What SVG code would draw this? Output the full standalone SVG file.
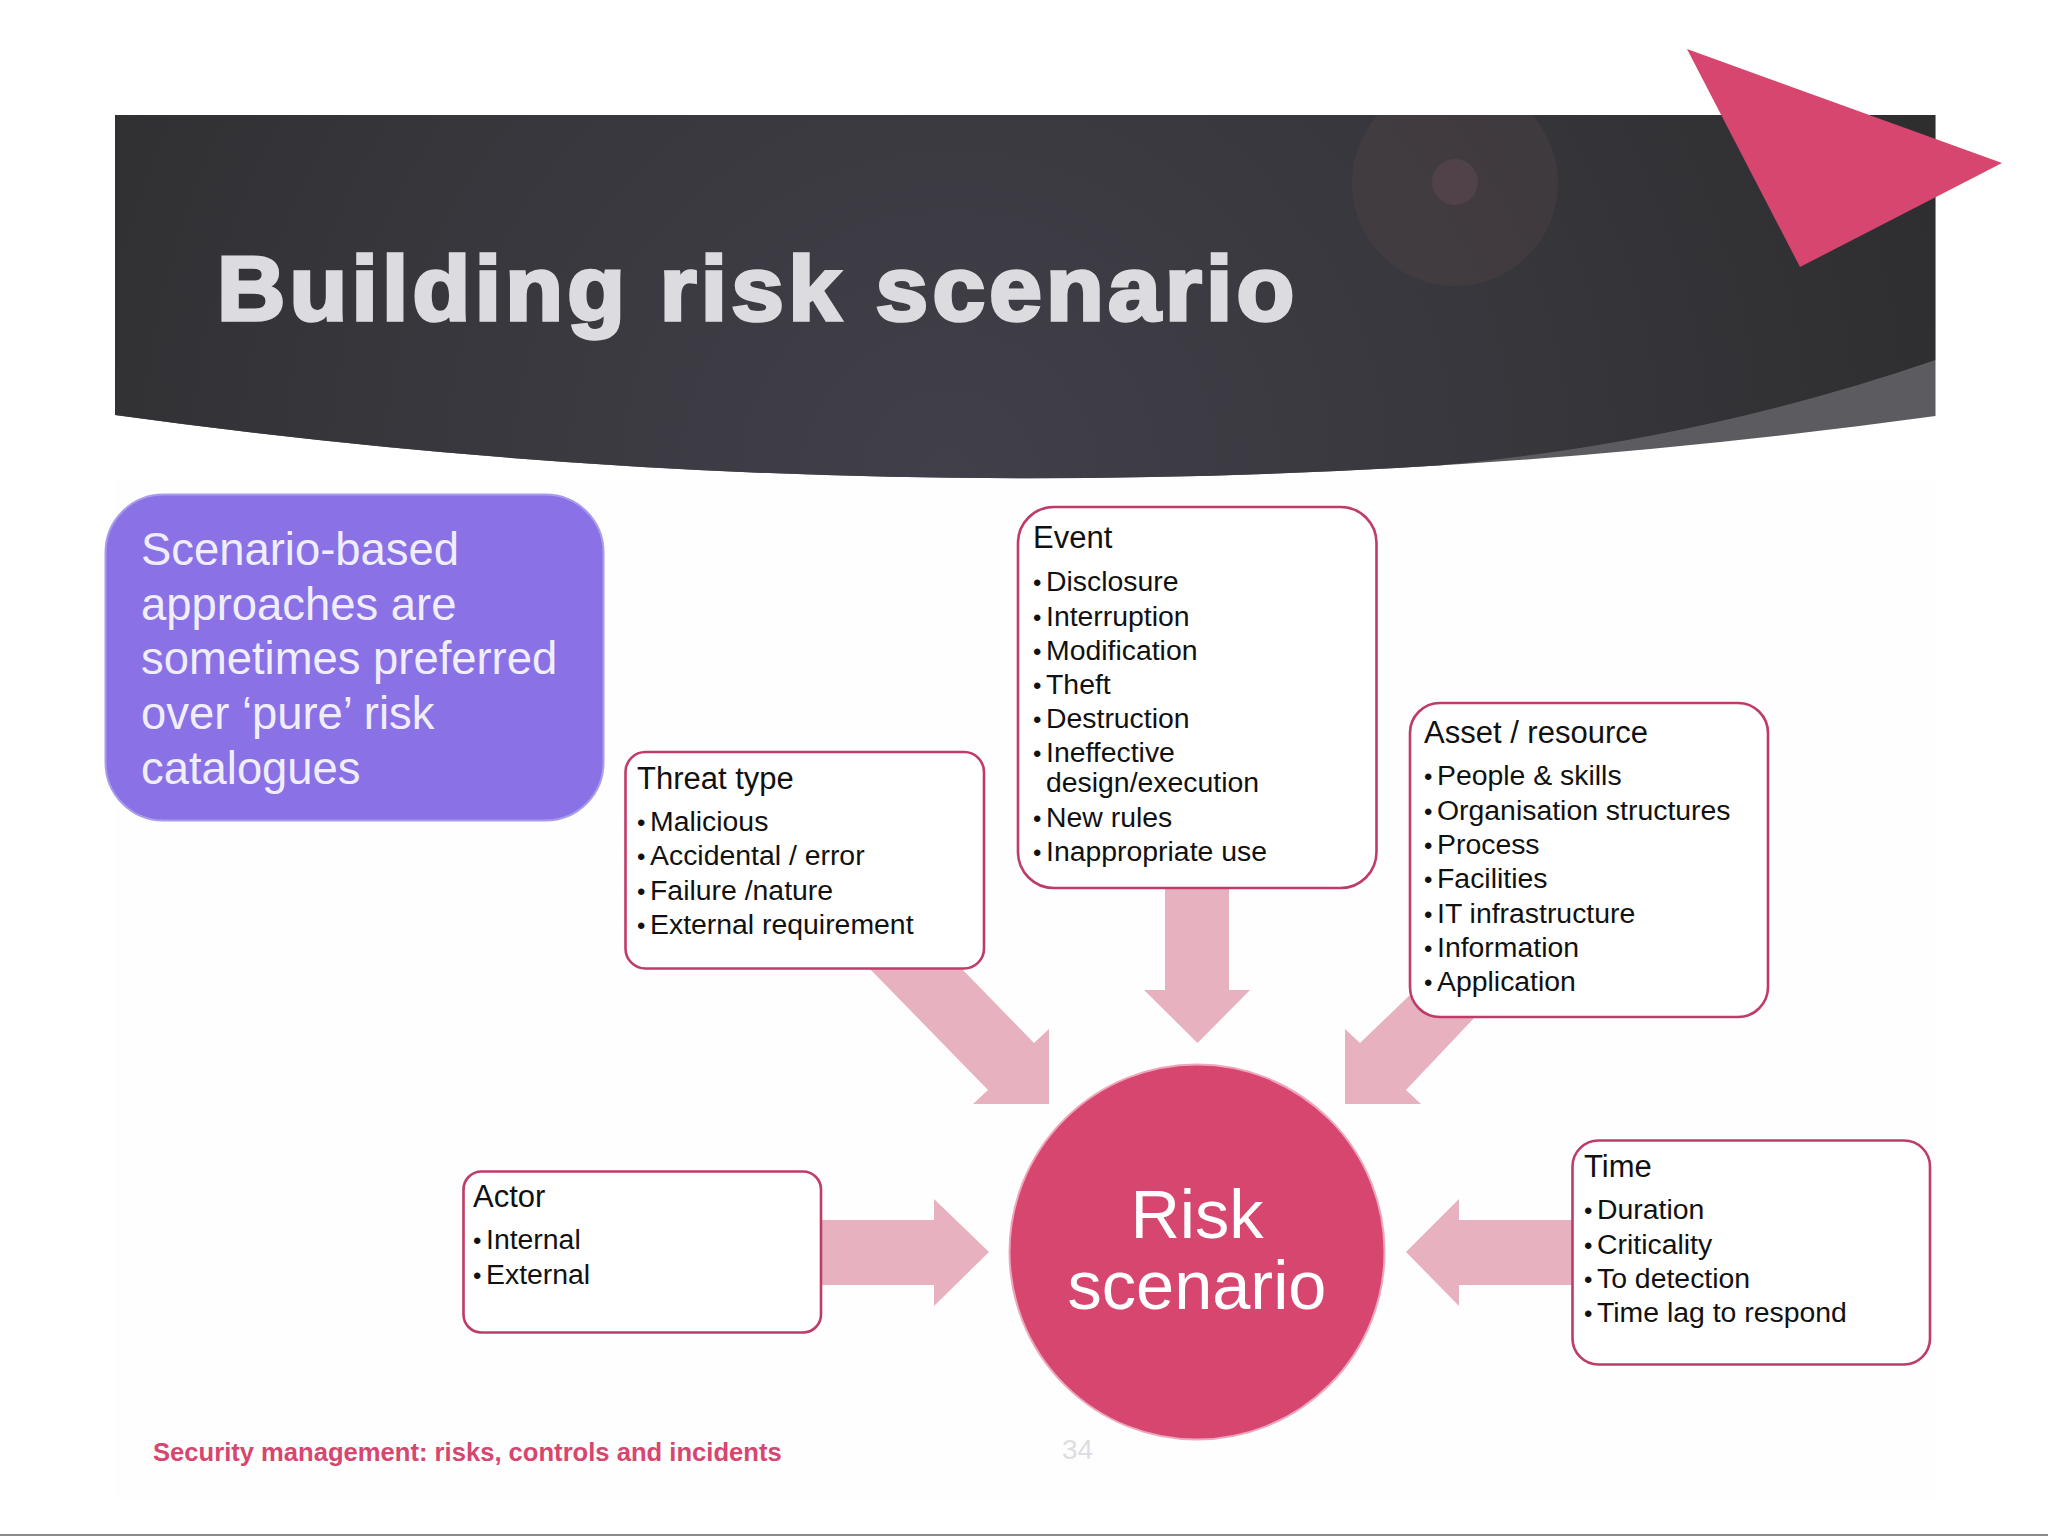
<svg xmlns="http://www.w3.org/2000/svg" width="2048" height="1536" viewBox="0 0 2048 1536">
<style>
text{font-family:"Liberation Sans",Arial,sans-serif}
.box{fill:#fff;stroke:#bf3c69;stroke-width:2.6}
.arrow{fill:#e8b1c0}
.h{font-size:31px;fill:#111}
.b{font-size:28.4px;fill:#111}
.d{font-size:24px}
.p{font-size:45.4px;fill:#f1eefc}
</style>
<defs>
<radialGradient id="bannerGrad" gradientUnits="userSpaceOnUse" cx="950" cy="480" r="1080">
<stop offset="0" stop-color="#413f49"/>
<stop offset="0.5" stop-color="#38373d"/>
<stop offset="1" stop-color="#2d2d2e"/>
</radialGradient>
<clipPath id="bannerClip"><rect x="115" y="115" width="1821" height="365"/></clipPath>
<clipPath id="darkClip"><path d="M0 0H1935.5V360Q1700 441 1443 465V600H0Z"/></clipPath>
</defs>
<rect width="2048" height="1536" fill="#fff"/>
<rect x="115" y="480" width="1821" height="1020" fill="#fefefe"/>
<rect y="1534" width="2048" height="2" fill="#8a8a8a"/>
<g id="banner">
<path d="M115 115H1935.5V416Q1025 541 115 415Z" fill="#5b5b60"/>
<path d="M115 115H1935.5V416Q1025 541 115 415Z" fill="url(#bannerGrad)" clip-path="url(#darkClip)"/>
<g clip-path="url(#bannerClip)">
<circle cx="1455" cy="183" r="103" fill="#4f4347" opacity="0.4"/>
<circle cx="1455" cy="182" r="23" fill="#5a474e" opacity="0.6"/>
</g>
<polygon points="1687,49 2002,163 1800,267" fill="#d6466f"/>
<text transform="translate(217 320) scale(1.05 1)" x="0" y="0" font-size="90" font-weight="700" fill="#dcdce0" stroke="#dcdce0" stroke-width="3.500" textLength="1026" lengthAdjust="spacing">Building risk scenario</text>
</g>
<g id="connectors">
<polygon class="arrow" points="870,969 962,969 1034,1043 1049,1029 1049,1104 973,1104 988,1090"/>
<polygon class="arrow" points="1165,888 1229,888 1229,990 1250,990 1197.5,1043 1144,990 1165,990"/>
<polygon class="arrow" points="1476,1016 1411,994 1360,1043 1345,1029 1345,1104 1421,1104 1406,1090"/>
<polygon class="arrow" points="821,1220 934,1220 934,1199 989,1252 934,1306 934,1285 821,1285"/>
<polygon class="arrow" points="1572,1220 1459,1220 1459,1199 1406,1252 1459,1306 1459,1285 1572,1285"/>
</g>
<g id="note">
<rect x="105.500" y="494.500" width="498" height="326" rx="58" fill="#8a72e6" stroke="#a99cec" stroke-width="2"/>
<text class="p"><tspan x="141" y="565">Scenario-based</tspan><tspan x="141" y="620">approaches are</tspan><tspan x="141" y="674">sometimes preferred</tspan><tspan x="141" y="729">over ‘pure’ risk</tspan><tspan x="141" y="784">catalogues</tspan></text>
</g>
<g id="threat-type">
<rect class="box" x="625.500" y="752" width="358.500" height="216.500" rx="20"/>
<text class="h" x="637" y="789">Threat type</text>
<text class="b"><tspan class="d" x="637" y="831">•</tspan><tspan x="650" y="831">Malicious</tspan><tspan class="d" x="637" y="865">•</tspan><tspan x="650" y="865">Accidental / error</tspan><tspan class="d" x="637" y="900">•</tspan><tspan x="650" y="900">Failure /nature</tspan><tspan class="d" x="637" y="934">•</tspan><tspan x="650" y="934">External requirement</tspan></text>
</g>
<g id="event">
<rect class="box" x="1018" y="507" width="358.500" height="381" rx="36"/>
<text class="h" x="1033" y="548">Event</text>
<text class="b"><tspan class="d" x="1033" y="591">•</tspan><tspan x="1046" y="591">Disclosure</tspan><tspan class="d" x="1033" y="625.500">•</tspan><tspan x="1046" y="625.500">Interruption</tspan><tspan class="d" x="1033" y="659.500">•</tspan><tspan x="1046" y="659.500">Modification</tspan><tspan class="d" x="1033" y="694">•</tspan><tspan x="1046" y="694">Theft</tspan><tspan class="d" x="1033" y="728">•</tspan><tspan x="1046" y="728">Destruction</tspan><tspan class="d" x="1033" y="762">•</tspan><tspan x="1046" y="762">Ineffective</tspan><tspan x="1046" y="792">design/execution</tspan><tspan class="d" x="1033" y="826.500">•</tspan><tspan x="1046" y="826.500">New rules</tspan><tspan class="d" x="1033" y="861">•</tspan><tspan x="1046" y="861">Inappropriate use</tspan></text>
</g>
<g id="asset-resource">
<rect class="box" x="1410" y="703" width="358" height="314" rx="30"/>
<text class="h" x="1424" y="743">Asset / resource</text>
<text class="b"><tspan class="d" x="1424" y="785">•</tspan><tspan x="1437" y="785">People &amp; skills</tspan><tspan class="d" x="1424" y="819.500">•</tspan><tspan x="1437" y="819.500">Organisation structures</tspan><tspan class="d" x="1424" y="853.500">•</tspan><tspan x="1437" y="853.500">Process</tspan><tspan class="d" x="1424" y="888">•</tspan><tspan x="1437" y="888">Facilities</tspan><tspan class="d" x="1424" y="922.500">•</tspan><tspan x="1437" y="922.500">IT infrastructure</tspan><tspan class="d" x="1424" y="957">•</tspan><tspan x="1437" y="957">Information</tspan><tspan class="d" x="1424" y="991">•</tspan><tspan x="1437" y="991">Application</tspan></text>
</g>
<g id="actor">
<rect class="box" x="463.500" y="1171.500" width="357.500" height="161" rx="18"/>
<text class="h" x="473" y="1207">Actor</text>
<text class="b"><tspan class="d" x="473" y="1249">•</tspan><tspan x="486" y="1249">Internal</tspan><tspan class="d" x="473" y="1284">•</tspan><tspan x="486" y="1284">External</tspan></text>
</g>
<g id="time">
<rect class="box" x="1572.500" y="1140.500" width="357.500" height="224" rx="26"/>
<text class="h" x="1584" y="1177">Time</text>
<text class="b"><tspan class="d" x="1584" y="1219">•</tspan><tspan x="1597" y="1219">Duration</tspan><tspan class="d" x="1584" y="1254">•</tspan><tspan x="1597" y="1254">Criticality</tspan><tspan class="d" x="1584" y="1288">•</tspan><tspan x="1597" y="1288">To detection</tspan><tspan class="d" x="1584" y="1322">•</tspan><tspan x="1597" y="1322">Time lag to respond</tspan></text>
</g>
<g id="risk-scenario">
<circle cx="1197" cy="1252" r="187.500" fill="#d6466f" stroke="#eda6bc" stroke-width="2"/>
<text x="1197" y="1238" font-size="68.500" fill="#fff" text-anchor="middle">Risk</text>
<text x="1197" y="1309" font-size="68.500" fill="#fff" text-anchor="middle">scenario</text>
</g>
<g id="footer">
<text x="153" y="1461" font-size="25.600" font-weight="700" fill="#d6466f">Security management: risks, controls and incidents</text>
<text x="1062" y="1459" font-size="28" fill="#dddde2">34</text>
</g>
</svg>
